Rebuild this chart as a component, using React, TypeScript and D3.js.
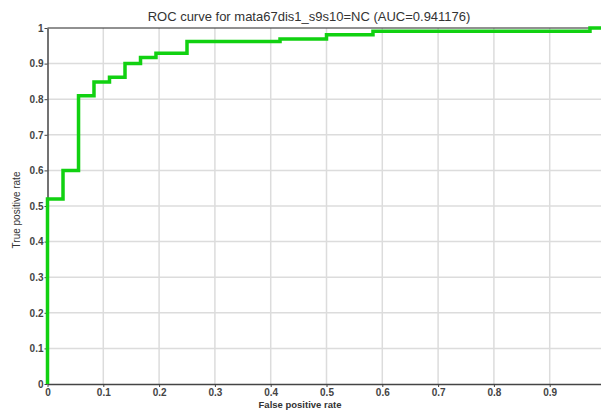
import { useEffect, useRef } from 'react';
import * as d3 from 'd3';

// ROC curve points (false positive rate, true positive rate), step shaped
const fpr = [0, 0, 0.0278, 0.0556, 0.0833, 0.1111, 0.1389, 0.1667, 0.1944, 0.25, 0.4167, 0.5, 0.5833, 0.9722, 1];
const tpr = [0, 0.52, 0.6, 0.81, 0.848, 0.862, 0.9, 0.917, 0.929, 0.962, 0.969, 0.981, 0.991, 1, 1];

const xTicks = [0, 0.1, 0.2, 0.3, 0.4, 0.5, 0.6, 0.7, 0.8, 0.9];
const yTicks = [0, 0.1, 0.2, 0.3, 0.4, 0.5, 0.6, 0.7, 0.8, 0.9, 1];

const title = 'ROC curve for mata67dis1_s9s10=NC (AUC=0.941176)';

export default function App() {
  const svgRef = useRef<SVGSVGElement>(null);

  useEffect(() => {
    if (!svgRef.current) return;
    const width = 601;
    const height = 411;
    const left = 47.5;
    const top = 28;
    const bottom = 384;

    const svg = d3.select(svgRef.current);
    svg.selectAll('*').remove();
    svg.attr('width', width).attr('height', height);

    svg.append('rect').attr('width', width).attr('height', height).attr('fill', '#fff');

    const x = d3.scaleLinear().domain([0, 1]).range([left, 605.5]);
    const y = d3.scaleLinear().domain([0, 1]).range([bottom, top]);

    // Grid
    svg.append('g')
      .selectAll('line')
      .data(xTicks.slice(1))
      .enter()
      .append('line')
      .attr('x1', (d) => x(d))
      .attr('x2', (d) => x(d))
      .attr('y1', top)
      .attr('y2', bottom)
      .attr('stroke', '#dcdcdc')
      .attr('stroke-width', 1.5);

    svg.append('g')
      .selectAll('line')
      .data(yTicks.slice(1, -1))
      .enter()
      .append('line')
      .attr('x1', left)
      .attr('x2', width)
      .attr('y1', (d) => y(d))
      .attr('y2', (d) => y(d))
      .attr('stroke', '#dcdcdc')
      .attr('stroke-width', 1.5);

    // Top border
    svg.append('line')
      .attr('x1', left)
      .attr('x2', width)
      .attr('y1', y(1))
      .attr('y2', y(1))
      .attr('stroke', '#222')
      .attr('stroke-width', 1);

    // Axes
    const fmt = (d: d3.NumberValue) => String(+d);
    const xAxis = svg.append('g')
      .attr('transform', `translate(0,${bottom})`)
      .call(d3.axisBottom(x).tickValues(xTicks).tickFormat(fmt).tickSize(3).tickSizeOuter(0));
    const yAxis = svg.append('g')
      .attr('transform', `translate(${left},0)`)
      .call(d3.axisLeft(y).tickValues(yTicks).tickFormat(fmt).tickSize(3).tickSizeOuter(0));

    [xAxis, yAxis].forEach((a) => {
      a.select('.domain').attr('stroke', '#444').attr('stroke-width', 1.5);
      a.selectAll('.tick line').attr('stroke', '#444');
      a.selectAll('text')
        .attr('fill', '#444')
        .attr('font-family', 'Liberation Sans, Arial, sans-serif')
        .attr('font-weight', 'bold')
        .attr('font-size', '10px');
    });
    xAxis.selectAll('text').attr('dy', '0.6em');
    yAxis.selectAll('text').attr('x', -4);

    // Curve
    const pts = fpr.map((f, i) => [f, tpr[i]] as [number, number]);
    const line = d3.line<[number, number]>()
      .x((d) => x(d[0]))
      .y((d) => y(d[1]))
      .curve(d3.curveStepAfter);
    svg.append('path')
      .datum(pts)
      .attr('d', line)
      .attr('fill', 'none')
      .attr('stroke', '#11d111')
      .attr('stroke-width', 3.5)
      .attr('stroke-linejoin', 'miter');

    // Title
    svg.append('text')
      .attr('x', 309)
      .attr('y', 21)
      .attr('text-anchor', 'middle')
      .attr('font-family', 'Liberation Sans, Arial, sans-serif')
      .attr('font-size', '13px')
      .attr('fill', '#333')
      .text(title);

    // Axis labels
    svg.append('text')
      .attr('x', 300)
      .attr('y', 408)
      .attr('text-anchor', 'middle')
      .attr('font-family', 'Liberation Sans, Arial, sans-serif')
      .attr('font-size', '9.5px')
      .attr('font-weight', 'bold')
      .attr('fill', '#333')
      .text('False positive rate');

    svg.append('text')
      .attr('transform', `translate(20,${210}) rotate(-90)`)
      .attr('text-anchor', 'middle')
      .attr('font-family', 'Liberation Sans, Arial, sans-serif')
      .attr('font-size', '10px')
      .attr('fill', '#333')
      .text('True positive rate');
  }, []);

  return (
    <svg ref={svgRef} style={{ position: 'absolute', left: 0, top: 0, display: 'block' }} />
  );
}
